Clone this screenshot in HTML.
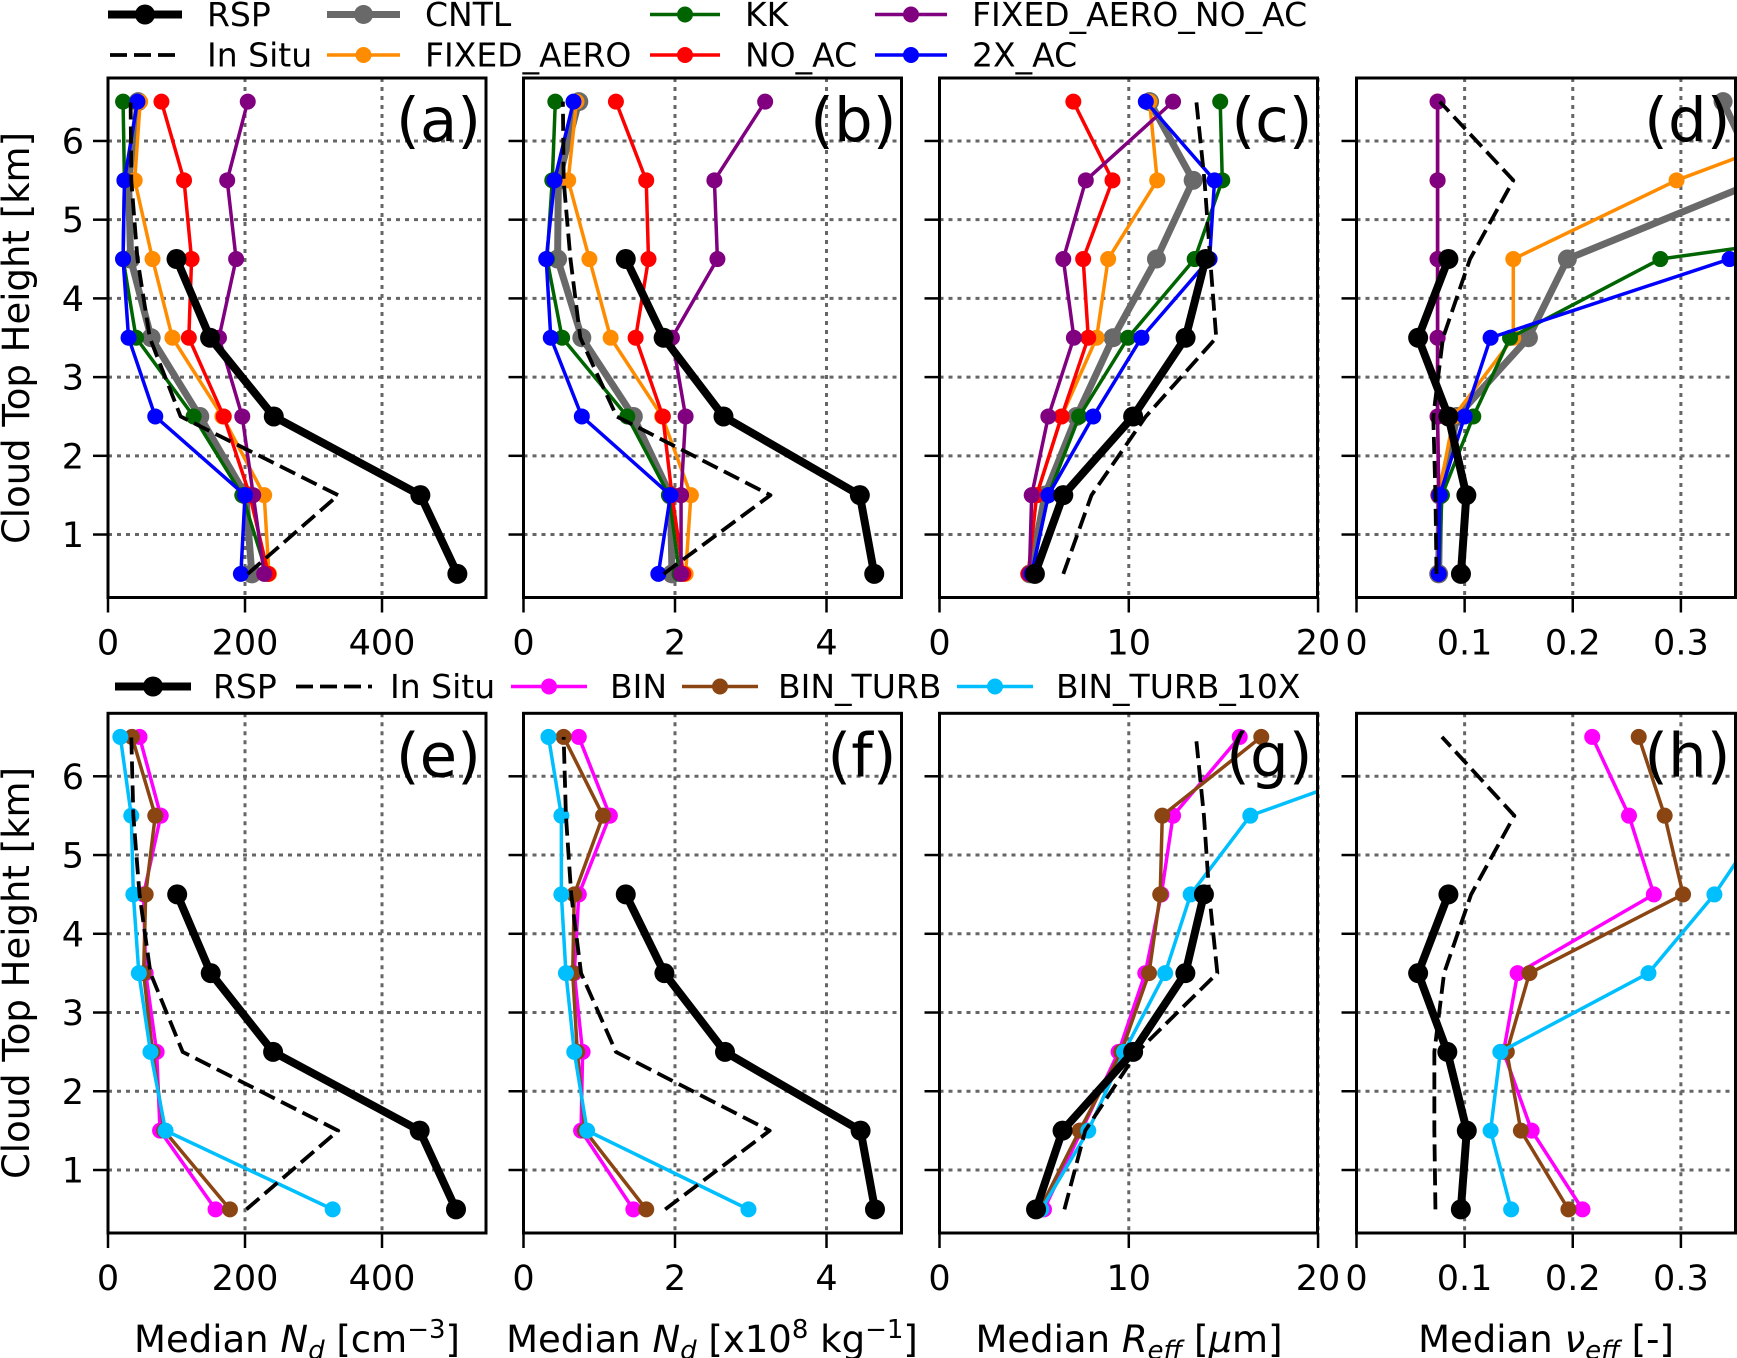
<!DOCTYPE html>
<html><head><meta charset="utf-8"><style>
html,body{margin:0;padding:0;background:#fff;}
svg{display:block;font-family:"DejaVu Sans","Liberation Sans",sans-serif;}
</style></head><body>
<svg id="fig" xmlns="http://www.w3.org/2000/svg" width="1737" height="1358" viewBox="0 0 1737 1358"></svg>
<script>
const heights = [0.5,1.5,2.5,3.5,4.5,5.5,6.5];
const yTicks = [1,2,3,4,5,6];
// panel (a) Nd cm-3
const rspA = [510,456,242,149,100,null,null];
const insituA = [204,336,106,61,43,34,33];
const cntlA = [210,201,134,63,33,30,44];
const faA = [235,228,167,94,65,39,47];
const kkA = [232,196,125,41,22,24,22];
const noacA = [234,207,169,118,122,111,78];
const fanoacA = [228,212,196,162,187,174,204];
const x2A = [194,200,69,30,22,24,43];
// panel (b) Nd x1e8 kg-1
const rspB = [4.63,4.44,2.64,1.85,1.35,null,null];
const insituB = [1.85,3.26,1.23,0.75,0.62,0.53,0.52];
const cntlB = [1.96,1.94,1.45,0.77,0.45,0.46,0.73];
const faB = [2.14,2.21,1.83,1.15,0.87,0.59,0.70];
const kkB = [2.06,1.92,1.37,0.51,0.31,0.38,0.42];
const noacB = [2.11,1.96,1.84,1.48,1.65,1.62,1.22];
const fanoacB = [2.08,2.08,2.14,1.96,2.56,2.52,3.19];
const x2B = [1.78,1.94,0.77,0.36,0.30,0.41,0.66];
// panel (c) Reff
const rspC = [5.04,6.54,10.23,13.0,14.06,null,null];
const insituC = [6.54,8.03,10.9,14.62,14.3,14.0,13.57];
const cntlC = [4.78,5.57,7.24,9.17,11.46,13.4,11.1];
const faC = [4.69,5.13,6.45,8.3,8.91,11.5,11.1];
const kkC = [4.87,5.75,7.38,9.96,13.48,14.94,14.83];
const noacC = [4.69,5.13,6.45,7.86,7.59,9.14,7.07];
const fanoacC = [4.75,4.87,5.75,7.1,6.54,7.73,12.34];
const x2C = [4.87,5.75,8.12,10.67,14.27,14.53,10.9];
// panel (d) veff
const rspD = [0.0966,0.1016,0.085,0.057,0.085,null,null];
const insituD = [0.074,0.073,0.071,0.08,0.105,0.145,0.077];
const cntlD = [0.076,0.077,0.093,0.159,0.195,0.373,0.339];
const faD = [0.076,0.076,0.09,0.145,0.145,0.296,0.49];
const kkD = [0.076,0.079,0.108,0.142,0.281,0.8,0.9];
const noacD = [0.076,0.076,0.075,0.075,0.075,0.075,0.075];
const fanoacD = [0.076,0.076,0.075,0.075,0.075,0.075,0.075];
const x2D = [0.076,0.077,0.1,0.124,0.345,0.6,0.7];
// panel (e)
const rspE = [508,455,241,150,101,null,null];
const insituE = [202,336,109,62,46,37,34];
const binE = [157,76,71,55,52,77,46];
const turbE = [178,82,65,52,55,69,35];
const x10E = [328,84,62,45,37,34,18];
// panel (f)
const rspF = [4.64,4.45,2.66,1.86,1.35,null,null];
const insituF = [1.87,3.25,1.22,0.76,0.63,0.56,0.53];
const binF = [1.45,0.76,0.78,0.67,0.73,1.14,0.73];
const turbF = [1.62,0.81,0.71,0.65,0.67,1.05,0.53];
const x10F = [2.97,0.84,0.67,0.56,0.50,0.50,0.33];
// panel (g)
const rspG = [5.1,6.5,10.23,12.99,13.97,null,null];
const insituG = [6.6,7.7,10.45,14.68,14.25,13.97,13.55];
const binG = [5.52,7.5,9.46,10.87,11.72,12.34,15.86];
const turbG = [5.3,7.4,9.6,11.07,11.66,11.77,17.0];
const x10G = [5.38,7.86,9.75,11.92,13.27,16.42,28];
// panel (h)
const rspH = [0.0965,0.102,0.084,0.057,0.085,null,null];
const insituH = [0.073,0.072,0.072,0.081,0.106,0.146,0.079];
const binH = [0.209,0.162,0.136,0.149,0.275,0.252,0.218];
const turbH = [0.196,0.152,0.139,0.16,0.302,0.285,0.261];
const x10H = [0.143,0.124,0.133,0.27,0.331,0.38,0.45];
// tick labels
const ticksNdCm = [0,200,400];
const ticksNdKg = [0,2,4];
const ticksReff = [0,10,20];
const ticksVeff = [0,0.1,0.2,0.3];
const tickLabNdCm = ["0","200","400"];
const tickLabNdKg = ["0","2","4"];
const tickLabReff = ["0","10","20"];
const tickLabVeff = ["0","0.1","0.2","0.3"];

const NS = "http://www.w3.org/2000/svg";
const svg = document.getElementById('fig');
function mk(tag, attrs, parent){
  const e = document.createElementNS(NS, tag);
  for (const k in attrs) e.setAttribute(k, attrs[k]);
  (parent||svg).appendChild(e);
  return e;
}
const STY = {
  RSP:{c:'#000000',w:8,r:10,dash:null},
  INSITU:{c:'#000000',w:3.8,r:0,dash:'17 7'},
  CNTL:{c:'#696969',w:7,r:9.5,dash:null},
  FA:{c:'#ff8c00',w:3.5,r:8,dash:null},
  KK:{c:'#006400',w:3.5,r:8,dash:null},
  NOAC:{c:'#ff0000',w:3.5,r:8,dash:null},
  FANOAC:{c:'#800080',w:3.5,r:8,dash:null},
  X2:{c:'#0000ff',w:3.5,r:8,dash:null},
  BIN:{c:'#ff00ff',w:3.5,r:8,dash:null},
  TURB:{c:'#8b4513',w:3.5,r:8,dash:null},
  X10:{c:'#00bfff',w:3.5,r:8,dash:null}
};
const cols = [[108,486],[523.5,901.5],[939.5,1317.5],[1356.5,1735.5]];
const rows = [[78,597.5],[713.3,1233]];
const xmaxs = [551.8,4.99,19.97,0.3505];
const panels = [
  {id:'a',r:0,c:0,ticks:ticksNdCm,labs:tickLabNdCm,series:[['CNTL',cntlA],['FA',faA],['KK',kkA],['NOAC',noacA],['FANOAC',fanoacA],['X2',x2A],['INSITU',insituA],['RSP',rspA]]},
  {id:'b',r:0,c:1,ticks:ticksNdKg,labs:tickLabNdKg,series:[['CNTL',cntlB],['FA',faB],['KK',kkB],['NOAC',noacB],['FANOAC',fanoacB],['X2',x2B],['INSITU',insituB],['RSP',rspB]]},
  {id:'c',r:0,c:2,ticks:ticksReff,labs:tickLabReff,series:[['CNTL',cntlC],['FA',faC],['KK',kkC],['NOAC',noacC],['FANOAC',fanoacC],['X2',x2C],['INSITU',insituC],['RSP',rspC]]},
  {id:'d',r:0,c:3,ticks:ticksVeff,labs:tickLabVeff,series:[['CNTL',cntlD],['FA',faD],['KK',kkD],['NOAC',noacD],['FANOAC',fanoacD],['X2',x2D],['INSITU',insituD],['RSP',rspD]]},
  {id:'e',r:1,c:0,ticks:ticksNdCm,labs:tickLabNdCm,series:[['BIN',binE],['TURB',turbE],['X10',x10E],['INSITU',insituE],['RSP',rspE]]},
  {id:'f',r:1,c:1,ticks:ticksNdKg,labs:tickLabNdKg,series:[['BIN',binF],['TURB',turbF],['X10',x10F],['INSITU',insituF],['RSP',rspF]]},
  {id:'g',r:1,c:2,ticks:ticksReff,labs:tickLabReff,series:[['BIN',binG],['TURB',turbG],['X10',x10G],['INSITU',insituG],['RSP',rspG]]},
  {id:'h',r:1,c:3,ticks:ticksVeff,labs:tickLabVeff,series:[['BIN',binH],['TURB',turbH],['X10',x10H],['INSITU',insituH],['RSP',rspH]]}
];
const defs = mk('defs',{});
panels.forEach(p=>{
  const [x0,x1] = cols[p.c], [y0,y1] = rows[p.r];
  const xmax = xmaxs[p.c];
  const xs = v => x0 + v/xmax*(x1-x0);
  const ys = h => y1 - (h-0.2)/6.6*(y1-y0);
  const g = mk('g',{});
  
  
  const cp = mk('clipPath',{id:'clip'+p.id},defs);
  mk('rect',{x:x0,y:y0,width:x1-x0,height:y1-y0},cp);
  yTicks.forEach(t=>{
    const l = mk('line',{x1:x0,x2:x1,y1:ys(t),y2:ys(t),stroke:'#666',"stroke-width":3,"stroke-dasharray":"4 5"},g);
    
    
  });
  p.ticks.forEach((t,i)=>{
    if (t>0){
      const l = mk('line',{x1:xs(t),x2:xs(t),y1:y0,y2:y1,stroke:'#666',"stroke-width":3,"stroke-dasharray":"4 5"},g);
      
      
    }
    const tk = mk('line',{x1:xs(t),x2:xs(t),y1:y1,y2:y1+15,stroke:'#000',"stroke-width":2.5},g);
    
    
    const tx = mk('text',{x:xs(t),y:y1+57,"font-size":35,"text-anchor":"middle",fill:'#000'},g);
    tx.textContent = p.labs[i];
    
    
  });
  yTicks.forEach(t=>{
    const tk = mk('line',{x1:x0-15,x2:x0,y1:ys(t),y2:ys(t),stroke:'#000',"stroke-width":2.5},g);
    
    
    if (p.c===0){
      const tx = mk('text',{x:x0-24,y:ys(t)+12.5,"font-size":35,"text-anchor":"end",fill:'#000'},g);
      tx.textContent = String(t);
      
      
    }
  });
  const sg = mk('g',{"clip-path":'url(#clip'+p.id+')'},g);
  p.series.forEach(([key,vals])=>{
    const s = STY[key];
    const pts = [];
    vals.forEach((v,i)=>{ if(v!==null) pts.push([xs(v),ys(heights[i])]); });
    const pl = mk('polyline',{points:pts.map(q=>q.join(',')).join(' '),fill:'none',stroke:s.c,"stroke-width":s.w,"stroke-linejoin":"round"},sg);
    if (s.dash) pl.setAttribute('stroke-dasharray',s.dash);
    
    
    if (s.r>0) pts.forEach(q=>{
      const c = mk('circle',{cx:q[0],cy:q[1],r:s.r,fill:s.c},sg);
      
      
    });
  });
  const fr = mk('rect',{x:x0,y:y0,width:x1-x0,height:y1-y0,fill:'none',stroke:'#000',"stroke-width":3},g);
  
  
  const pl = mk('text',{x:x1-5,y:y0+63,"font-size":61,"text-anchor":"end",fill:'#000'},g);
  pl.textContent = '('+p.id+')';
  
  
});
function legend(key,lx0,lx1,ty,tx,label){
  const s = STY[key];
  const g = mk('g',{});
  
  
  const l = mk('line',{x1:lx0,x2:lx1,y1:ty,y2:ty,stroke:s.c,"stroke-width":s.w},g);
  if (s.dash) l.setAttribute('stroke-dasharray',s.dash);
  if (s.r>0) mk('circle',{cx:(lx0+lx1)/2,cy:ty,r:s.r,fill:s.c},g);
  const t = mk('text',{x:tx,y:ty+11.5,"font-size":33,fill:'#000'},g);
  t.textContent = label;
}
legend('RSP',108,182,14.5,207,'RSP');
legend('CNTL',327,400,14.5,425,'CNTL');
legend('KK',650,720,14.5,745,'KK');
legend('FANOAC',875,947,14.5,972,'FIXED_AERO_NO_AC');
legend('INSITU',110,180,55,207,'In Situ');
legend('FA',327,400,55,425,'FIXED_AERO');
legend('NOAC',650,720,55,745,'NO_AC');
legend('X2',875,947,55,972,'2X_AC');
legend('RSP',115,191,686.5,213,'RSP');
legend('INSITU',296,372,686.5,390,'In Situ');
legend('BIN',511,587,686.5,610,'BIN');
legend('TURB',682,758,686.5,778,'BIN_TURB');
legend('X10',957,1033,686.5,1056,'BIN_TURB_10X');
</script>
<svg style="position:absolute;left:0;top:0" width="1737" height="1358" xmlns="http://www.w3.org/2000/svg" font-family="DejaVu Sans, Liberation Sans, sans-serif">
  <text transform="translate(29,338) rotate(-90)" font-size="37" text-anchor="middle">Cloud Top Height [km]</text>
  <text transform="translate(29,973) rotate(-90)" font-size="37" text-anchor="middle">Cloud Top Height [km]</text>
  <text x="297" y="1352" font-size="37" text-anchor="middle">Median <tspan font-style="italic">N</tspan><tspan font-style="italic" font-size="26" dy="7">d</tspan><tspan dy="-7"> [cm</tspan><tspan font-size="26" dy="-14">−3</tspan><tspan dy="14">]</tspan></text>
  <text x="712" y="1352" font-size="37" text-anchor="middle">Median <tspan font-style="italic">N</tspan><tspan font-style="italic" font-size="26" dy="7">d</tspan><tspan dy="-7"> [x10</tspan><tspan font-size="26" dy="-14">8</tspan><tspan dy="14"> kg</tspan><tspan font-size="26" dy="-14">−1</tspan><tspan dy="14">]</tspan></text>
  <text x="1129" y="1352" font-size="37" text-anchor="middle">Median <tspan font-style="italic">R</tspan><tspan font-style="italic" font-size="26" dy="7">eff</tspan><tspan dy="-7"> [</tspan><tspan font-style="italic">μ</tspan><tspan>m]</tspan></text>
  <text x="1546" y="1352" font-size="37" text-anchor="middle">Median <tspan font-style="italic">ν</tspan><tspan font-style="italic" font-size="26" dy="7">eff</tspan><tspan dy="-7"> [-]</tspan></text>
</svg>
</body></html>
